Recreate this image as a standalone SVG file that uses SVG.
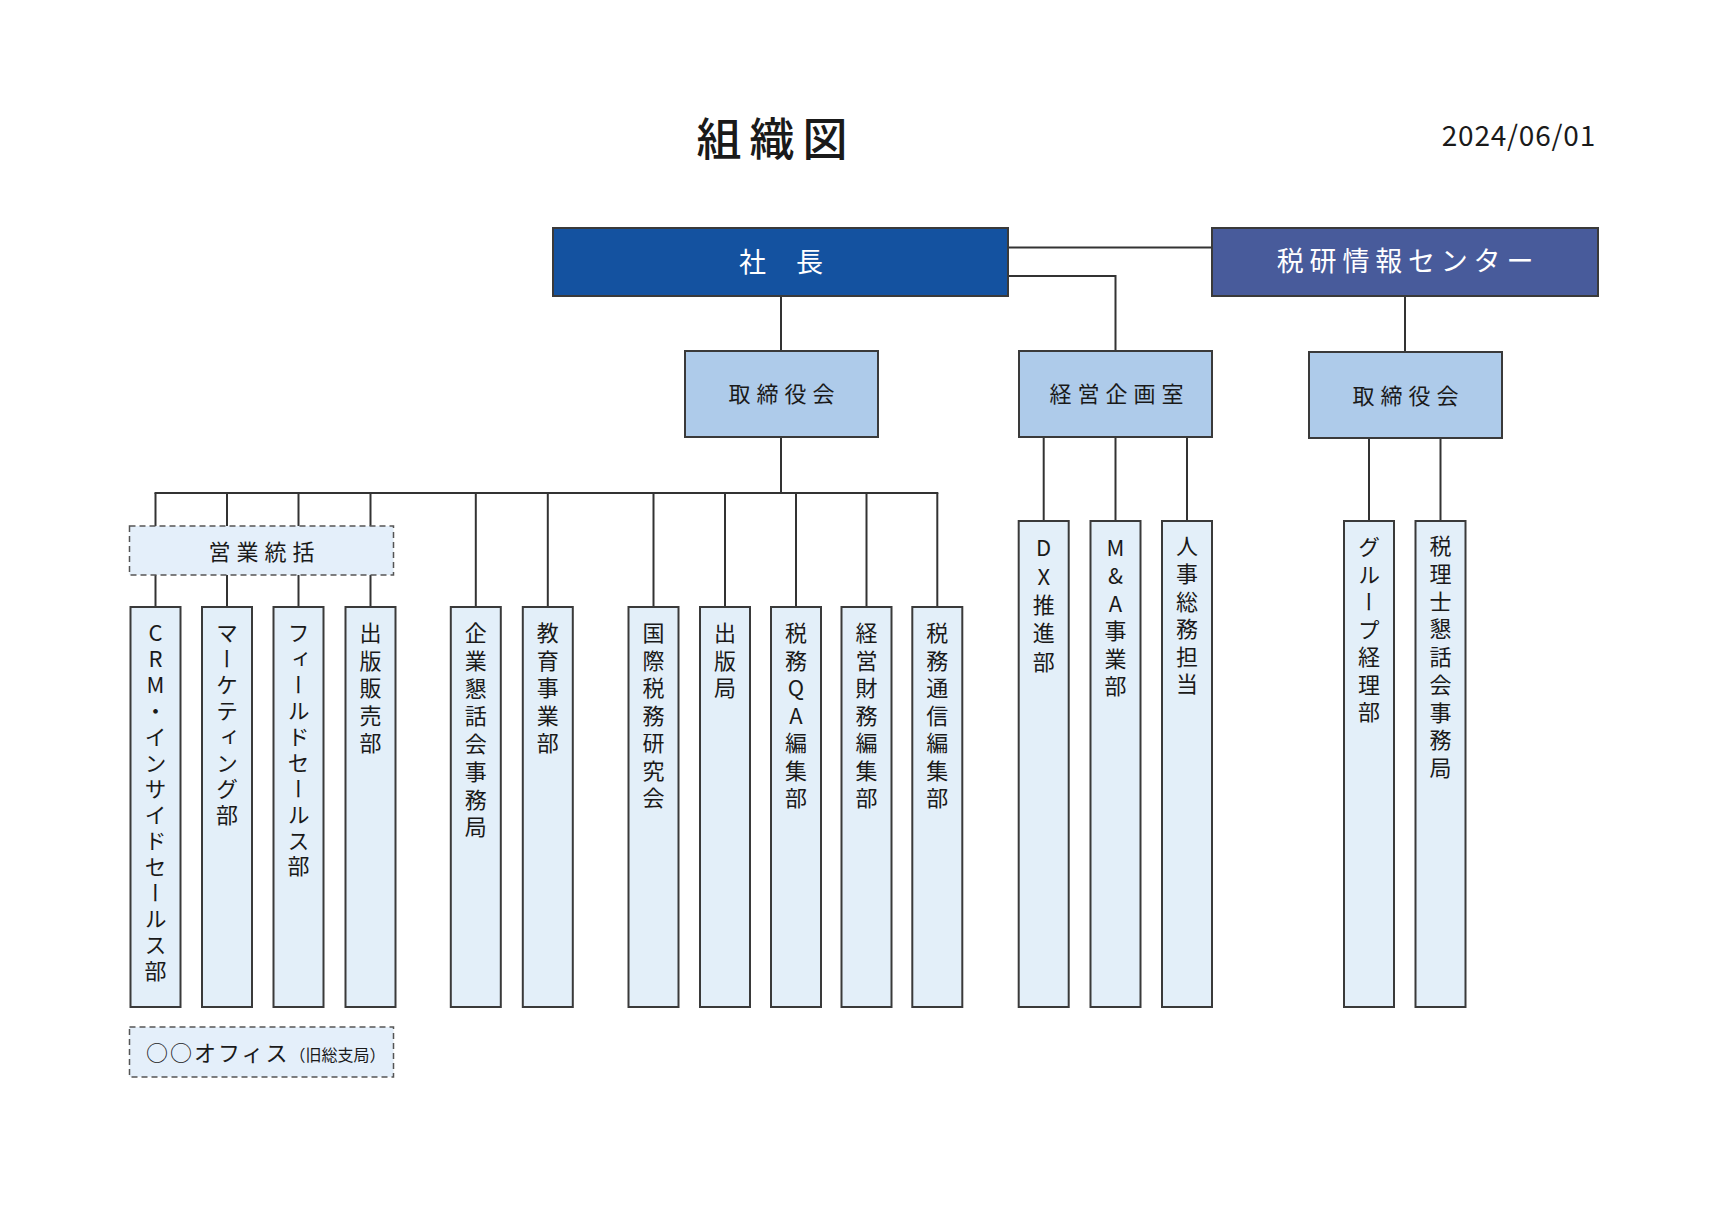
<svg xmlns="http://www.w3.org/2000/svg" width="1719" height="1226" viewBox="0 0 1719 1226">
<style>
text{font-family:"Noto Sans CJK JP","Noto Sans",sans-serif;fill:#1a1a1a}
.box{stroke:#3a3a3a;stroke-width:2}
.top{fill:#1452a0}
.top2{fill:#485b9b}
.mid{fill:#aecbea}
.leaf{fill:#e3eff9}
.dash{fill:#e4effa;stroke:#555;stroke-width:1.5;stroke-dasharray:6 4}
.h{font-size:22px;letter-spacing:6px;text-anchor:middle}
.w{fill:#ffffff;text-anchor:middle}
.v{font-size:22px;writing-mode:vertical-rl;text-orientation:upright;letter-spacing:5.5px}
#connectors line,#connectors polyline{stroke:#333;stroke-width:2;fill:none}
</style>
<rect x="0" y="0" width="1719" height="1226" fill="#ffffff"/>
<text x="776" y="155.5" style="font-size:45px;font-weight:500;letter-spacing:8px;text-anchor:middle">組織図</text>
<text x="1596" y="146" style="font-size:28px;letter-spacing:0.8px;text-anchor:end">2024/06/01</text>

<g id="connectors">
<line x1="1008" y1="247.5" x2="1212" y2="247.5"/>
<polyline points="1008,276 1115.5,276 1115.5,351"/>
<line x1="781" y1="296" x2="781" y2="351"/>
<line x1="1405" y1="296" x2="1405" y2="352"/>
<line x1="781" y1="437" x2="781" y2="493"/>
<line x1="154.5" y1="493" x2="938.3" y2="493"/>
<line x1="155.5" y1="493" x2="155.5" y2="607"/>
<line x1="227" y1="493" x2="227" y2="607"/>
<line x1="298.5" y1="493" x2="298.5" y2="607"/>
<line x1="370.5" y1="493" x2="370.5" y2="607"/>
<line x1="475.8" y1="493" x2="475.8" y2="607"/>
<line x1="547.8" y1="493" x2="547.8" y2="607"/>
<line x1="653.5" y1="493" x2="653.5" y2="607"/>
<line x1="725" y1="493" x2="725" y2="607"/>
<line x1="796" y1="493" x2="796" y2="607"/>
<line x1="866.5" y1="493" x2="866.5" y2="607"/>
<line x1="937.3" y1="493" x2="937.3" y2="607"/>
<line x1="1043.7" y1="437" x2="1043.7" y2="521"/>
<line x1="1115.5" y1="437" x2="1115.5" y2="521"/>
<line x1="1187" y1="437" x2="1187" y2="521"/>
<line x1="1369" y1="438" x2="1369" y2="521"/>
<line x1="1440.5" y1="438" x2="1440.5" y2="521"/>
</g>

<g id="shacho">
<rect class="box top" x="553" y="228" width="455" height="68"/>
<text class="w" x="781.7" y="271.8" style="font-size:27px;letter-spacing:1.4px">社　長</text>
</g>
<g id="zeiken">
<rect class="box top2" x="1212" y="228" width="386" height="68"/>
<text class="w" x="1408" y="271.3" style="font-size:27px;letter-spacing:5.8px">税研情報センター</text>
</g>
<g id="torishimari1">
<rect class="box mid" x="685" y="351" width="193" height="86"/>
<text class="h" x="784.5" y="402.4">取締役会</text>
</g>
<g id="keiei">
<rect class="box mid" x="1019" y="351" width="193" height="86"/>
<text class="h" x="1119.5" y="402">経営企画室</text>
</g>
<g id="torishimari2">
<rect class="box mid" x="1309" y="352" width="193" height="86"/>
<text class="h" x="1408.5" y="404.4">取締役会</text>
</g>
<g id="eigyo">
<rect class="dash" x="129.5" y="526" width="264" height="49"/>
<text class="h" x="264.5" y="559.7">営業統括</text>
</g>

<g id="crm">
<rect class="box leaf" x="130.5" y="607" width="50" height="400"/>
<text class="v" x="155.5" y="622" style="letter-spacing:4px">CRM・インサイドセールス部</text>
</g>
<g id="marketing">
<rect class="box leaf" x="202" y="607" width="50" height="400"/>
<text class="v" x="227" y="622" style="letter-spacing:4px">マーケティング部</text>
</g>
<g id="field">
<rect class="box leaf" x="273.5" y="607" width="50" height="400"/>
<text class="v" x="298.5" y="622" style="letter-spacing:3.9px">フィールドセールス部</text>
</g>
<g id="shuppanhanbai">
<rect class="box leaf" x="345.5" y="607" width="50" height="400"/>
<text class="v" x="370.5" y="622">出版販売部</text>
</g>
<g id="kigyo">
<rect class="box leaf" x="450.8" y="607" width="50" height="400"/>
<text class="v" x="475.8" y="622" style="letter-spacing:5.7px">企業懇話会事務局</text>
</g>
<g id="kyoiku">
<rect class="box leaf" x="522.8" y="607" width="50" height="400"/>
<text class="v" x="547.8" y="622">教育事業部</text>
</g>
<g id="kokusai">
<rect class="box leaf" x="628.5" y="607" width="50" height="400"/>
<text class="v" x="653.5" y="622">国際税務研究会</text>
</g>
<g id="shuppankyoku">
<rect class="box leaf" x="700" y="607" width="50" height="400"/>
<text class="v" x="725" y="622">出版局</text>
</g>
<g id="zeimuqa">
<rect class="box leaf" x="771" y="607" width="50" height="400"/>
<text class="v" x="796" y="622">税務QA編集部</text>
</g>
<g id="keieizaimu">
<rect class="box leaf" x="841.5" y="607" width="50" height="400"/>
<text class="v" x="866.5" y="622">経営財務編集部</text>
</g>
<g id="zeimutsushin">
<rect class="box leaf" x="912.3" y="607" width="50" height="400"/>
<text class="v" x="937.3" y="622">税務通信編集部</text>
</g>

<g id="dx">
<rect class="box leaf" x="1018.7" y="521" width="50" height="486"/>
<text class="v" x="1043.7" y="537" style="letter-spacing:6.3px">DX推進部</text>
</g>
<g id="ma">
<rect class="box leaf" x="1090.5" y="521" width="50" height="486"/>
<text class="v" x="1115.5" y="537" style="letter-spacing:5.6px">M&amp;A事業部</text>
</g>
<g id="jinji">
<rect class="box leaf" x="1162" y="521" width="50" height="486"/>
<text class="v" x="1187" y="535" style="letter-spacing:5.6px">人事総務担当</text>
</g>
<g id="group">
<rect class="box leaf" x="1344" y="521" width="50" height="486"/>
<text class="v" x="1369" y="536">グループ経理部</text>
</g>
<g id="zeirishi">
<rect class="box leaf" x="1415.5" y="521" width="50" height="486"/>
<text class="v" x="1440.5" y="535" style="letter-spacing:5.7px">税理士懇話会事務局</text>
</g>

<g id="office">
<rect class="dash" x="129.5" y="1027" width="264" height="50"/>
<text x="146" y="1060.5" style="font-size:22px;letter-spacing:2px">○○オフィス<tspan style="font-size:16px;letter-spacing:0px">（旧総支局）</tspan></text>
</g>
</svg>
